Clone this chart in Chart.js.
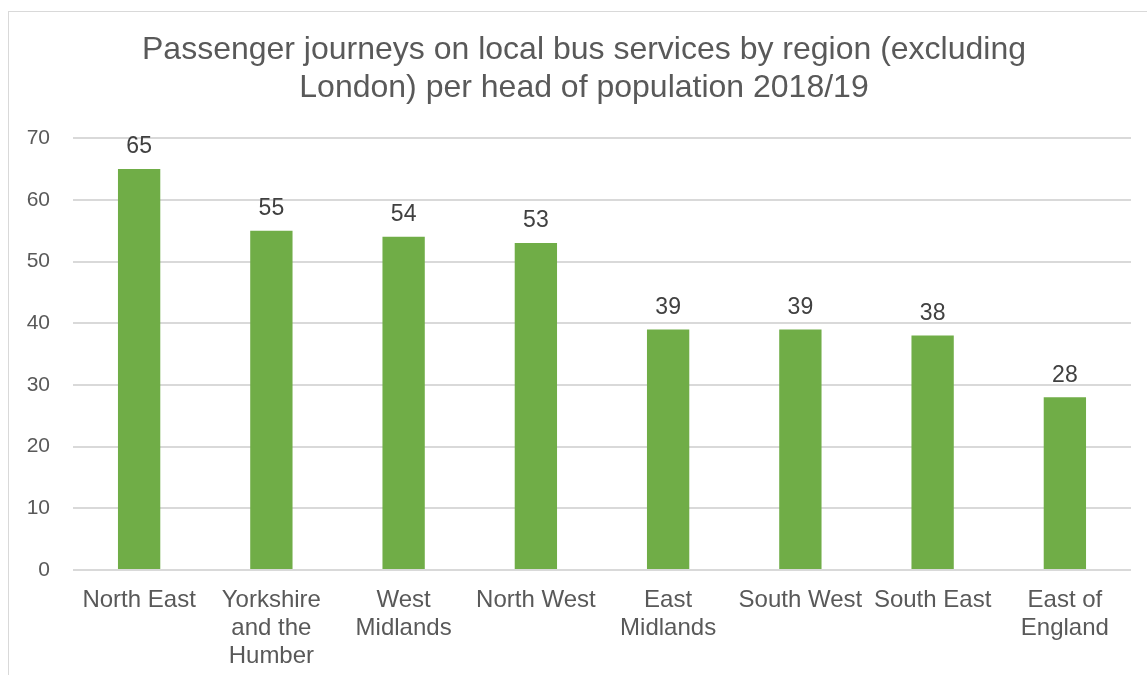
<!DOCTYPE html>
<html lang="en">

<head>
    <meta charset="UTF-8">
    <title>Bus journeys per head</title>
    <script src="https://cdn.jsdelivr.net/npm/chart.js"></script>
    <style>
        html, body { margin: 0; padding: 0; background: #fff; }
        .wrap { position: relative; width: 1147px; height: 675px; overflow: hidden; }
        .frame { position: absolute; left: 8px; top: 11px; width: 1200px; height: 700px;
                 border-left: 1px solid #d9d9d9; border-top: 1px solid #d9d9d9; }
        canvas { position: absolute; left: 0; top: 0; }
    </style>
</head>

<body>
    <div class="wrap">
        <div class="frame"></div>
        <canvas id="myChart" width="1147" height="675"></canvas>
    </div>

    <script>
        const regions = [
            'North East',
            ['Yorkshire', 'and the', 'Humber'],
            ['West', 'Midlands'],
            'North West',
            ['East', 'Midlands'],
            'South West',
            'South East',
            ['East of', 'England']
        ];
        const journeys = [65, 55, 54, 53, 39, 39, 38, 28];
        const titleLines = ['Passenger journeys on local bus services by region (excluding', 'London) per head of population 2018/19'];
        const yTicks = [0, 10, 20, 30, 40, 50, 60, 70];

        const fontFam = '"Liberation Sans", Arial, sans-serif';

        // value labels above bars
        const barLabels = {
            id: 'barLabels',
            afterLayout(chart) {
                // title in the original sits a bit right of the canvas centre
                chart.titleBlock.left += 37;
            },
            afterDatasetsDraw(chart) {
                const c = chart.ctx;
                const meta = chart.getDatasetMeta(0);
                c.save();
                c.font = '23px ' + fontFam;
                c.fillStyle = '#404040';
                c.textAlign = 'center';
                c.textBaseline = 'middle';
                meta.data.forEach((bar, i) => {
                    c.fillText(journeys[i], bar.x, bar.y - 22);
                });
                c.restore();
            }
        };

        new Chart(document.getElementById('myChart'), {
            type: 'bar',
            data: {
                labels: regions,
                datasets: [{
                    data: journeys,
                    backgroundColor: '#70ad47',
                    barPercentage: 0.32,
                    categoryPercentage: 1
                }]
            },
            options: {
                responsive: false,
                animation: false,
                layout: { padding: { left: 0, right: 16, top: 0, bottom: 0 } },
                plugins: {
                    legend: { display: false },
                    tooltip: { enabled: false },
                    title: {
                        display: true,
                        text: titleLines,
                        color: '#595959',
                        font: { family: fontFam, size: 32, weight: 'normal', lineHeight: 1.19 },
                        padding: { top: 31, bottom: 31 }
                    }
                },
                scales: {
                    x: {
                        grid: { display: false },
                        border: { display: false },
                        ticks: {
                            color: '#595959',
                            font: { family: fontFam, size: 24, lineHeight: 1.17 },
                            padding: 8,
                            maxRotation: 0,
                            autoSkip: false
                        },
                        afterFit: (s) => { s.height = 105; }
                    },
                    y: {
                        min: 0,
                        max: 70,
                        afterBuildTicks: (s) => { s.ticks = yTicks.map(v => ({ value: v })); },
                        grid: { color: '#d9d9d9', lineWidth: 2, drawTicks: false },
                        border: { display: false },
                        ticks: {
                            color: '#595959',
                            font: { family: fontFam, size: 21 },
                            padding: 23
                        },
                        afterFit: (s) => { s.width = 73; }
                    }
                }
            },
            plugins: [barLabels]
        });
    </script>
</body>

</html>
